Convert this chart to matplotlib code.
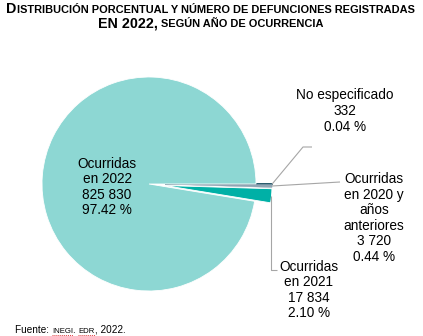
import numpy as np
import matplotlib.pyplot as plt

plt.rcParams['font.family'] = ['Liberation Sans', 'DejaVu Sans']

# deaths registered in 2022 by year of occurrence
categories = ['No especificado', 'Ocurridas\nen 2020 y\naños\nanteriores',
              'Ocurridas\nen 2021', 'Ocurridas\nen 2022']
deaths = [332, 3720, 17834, 825830]
shares = [0.04, 0.44, 2.10, 97.42]
colors = ['#2b5c6e', '#8fa5b3', '#00b0a6', '#8dd7d3']

W, H = 423, 336
fig = plt.figure(figsize=(W / 100, H / 100), dpi=100)
ax = fig.add_axes([0, 0, 1, 1])

cx, cy, r = 149, H - 184, 107
# explode offsets are in data units, so scale by the radius
off = 0.15 * r
wedges, _ = ax.pie(deaths, colors=colors, startangle=0, counterclock=False,
                   explode=[off, off, off, 0], radius=r, center=(cx, cy),
                   wedgeprops=dict(linewidth=0.6, edgecolor='white'))
wedges[0].set_edgecolor(colors[0])
wedges[0].set_linewidth(1.1)
wedges[1].set_edgecolor(colors[1])
wedges[1].set_linewidth(0.3)

ax.set_xlim(0, W)
ax.set_ylim(0, H)
ax.set_aspect('equal')
ax.axis('off')


def tip(w):
    t = np.deg2rad((w.theta1 + w.theta2) / 2)
    return w.center[0] + w.r * np.cos(t), w.center[1] + w.r * np.sin(t)


def label(i):
    return f"{categories[i]}\n{deaths[i]:,}".replace(',', ' ') + f"\n{shares[i]:.2f} %"


lc = '#a6a6a6'
fs = 9.8

# leader lines: points given top-down in pixels after the wedge tip
legs = [[(303, 147), (312, 147)],
        [(340, 182)],
        [(272, 270), (277, 270)]]
for i, pts in enumerate(legs):
    x0, y0 = tip(wedges[i])
    xs = [x0] + [p[0] for p in pts]
    ys = [y0] + [H - p[1] for p in pts]
    if i == 2:
        xs[1] = x0
    ax.plot(xs, ys, color=lc, lw=0.8, solid_capstyle='butt')

label_pos = [(345, 111), (374, 218), (309, 290), (107, 187)]
for i, (x, y) in enumerate(label_pos):
    ax.text(x, H - y, label(i), ha='center', va='center', fontsize=fs,
            linespacing=1.15, multialignment='center')

renderer = fig.canvas.get_renderer()


def run(pieces, x, y, ha='center', weight='normal'):
    # consecutive text pieces of different sizes on one baseline
    arts = [ax.text(0, y, s, fontsize=sz, fontweight=weight, va='baseline', ha='left')
            for s, sz in pieces]
    widths = [a.get_window_extent(renderer).width for a in arts]
    total = sum(widths)
    x0 = x - total / 2 if ha == 'center' else x
    for a, w in zip(arts, widths):
        a.set_x(x0)
        x0 += w
    return arts


big, small = 10.3, 7.95
run([('D', big), ('ISTRIBUCIÓN PORCENTUAL Y NÚMERO DE DEFUNCIONES REGISTRADAS', small)],
    W / 2 - 1, H - 13, weight='bold')
run([('EN 2022,', big), (' SEGÚN AÑO DE OCURRENCIA', small)],
    W / 2 - 1, H - 27, weight='bold')

src = run([('Fuente: ', 7.2), ('INEGI', 5.6), ('. ', 7.2), ('EDR', 5.6), (', 2022.', 7.2)],
          15, H - 333, ha='left')
for a in (src[1], src[3]):
    bb = a.get_window_extent(renderer)
    ax.plot([bb.x0, bb.x1], [H - 335, H - 335], color='#e04040', lw=0.7,
            linestyle=(0, (1, 1)))

fig.savefig('out.png', dpi=100)
